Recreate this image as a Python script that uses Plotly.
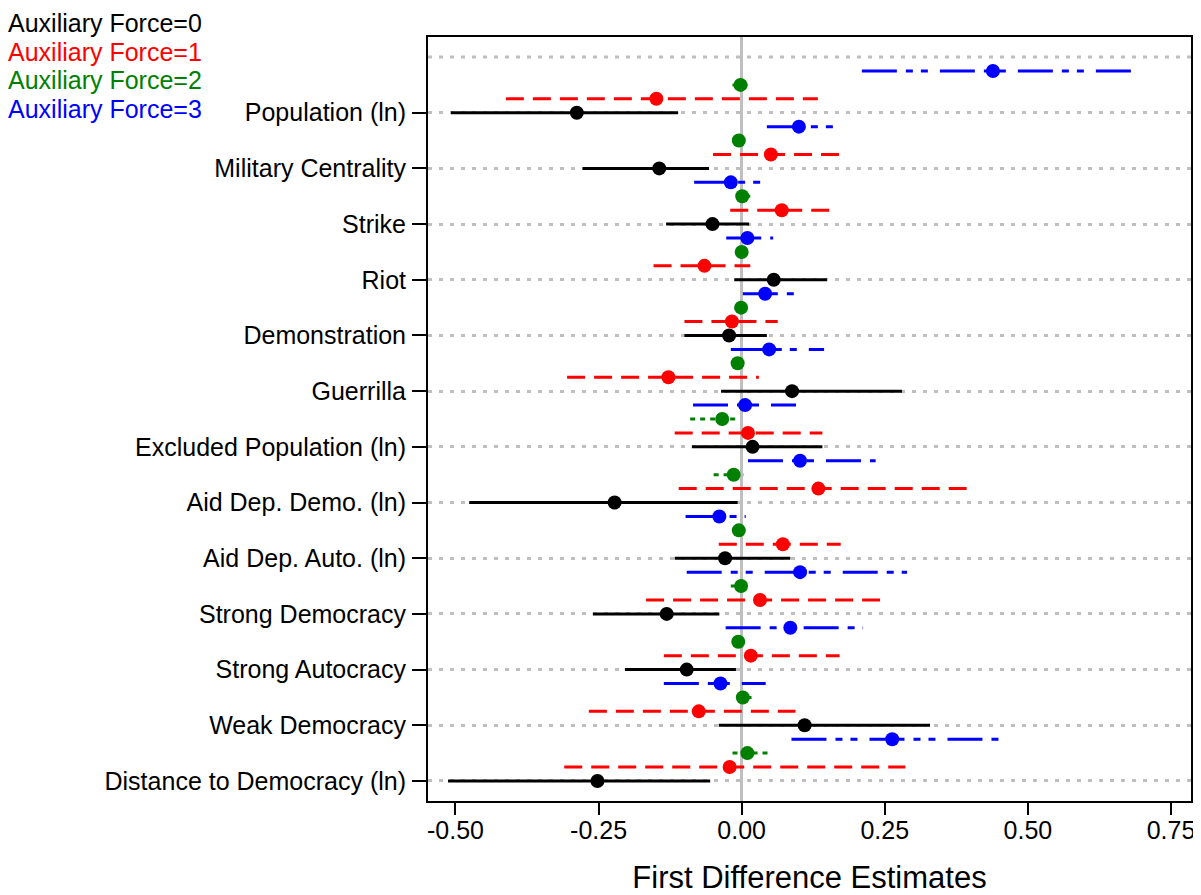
import plotly.graph_objects as go

# ---- data (rows listed top to bottom) ----
labels = ["Population (ln)", "Military Centrality", "Strike", "Riot", "Demonstration",
          "Guerrilla", "Excluded Population (ln)", "Aid Dep. Demo. (ln)", "Aid Dep. Auto. (ln)",
          "Strong Democracy", "Strong Autocracy", "Weak Democracy", "Distance to Democracy (ln)"]

af0_est = [-0.288, -0.144, -0.051, 0.056, -0.022, 0.088, 0.019, -0.222, -0.029, -0.131, -0.096, 0.110, -0.252]
af0_lo = [-0.508, -0.278, -0.132, -0.013, -0.100, -0.036, -0.087, -0.476, -0.117, -0.260, -0.204, -0.040, -0.513]
af0_hi = [-0.111, -0.057, 0.013, 0.149, 0.044, 0.280, 0.141, -0.007, 0.085, -0.039, -0.010, 0.329, -0.055]

af1_est = [-0.149, 0.051, 0.070, -0.065, -0.017, -0.128, 0.011, 0.134, 0.072, 0.032, 0.016, -0.075, -0.021]
af1_lo = [-0.412, -0.050, -0.020, -0.154, -0.100, -0.305, -0.117, -0.110, -0.040, -0.167, -0.136, -0.267, -0.310]
af1_hi = [0.133, 0.175, 0.159, 0.015, 0.063, 0.030, 0.141, 0.393, 0.173, 0.245, 0.171, 0.094, 0.286]

af2_est = [-0.002, -0.005, 0.001, 0.000, -0.001, -0.007, -0.034, -0.014, -0.005, -0.001, -0.006, 0.002, 0.010]
af2_lo = [-0.016, -0.012, -0.008, -0.008, -0.009, -0.017, -0.090, -0.049, -0.012, -0.019, -0.015, -0.009, -0.016]
af2_hi = [0.014, 0.002, 0.015, 0.008, 0.007, 0.003, -0.007, 0.004, 0.002, 0.013, 0.005, 0.019, 0.052]

af3_est = [0.439, 0.100, -0.019, 0.010, 0.041, 0.048, 0.006, 0.102, -0.039, 0.102, 0.085, -0.037, 0.263]
af3_lo = [0.210, 0.044, -0.083, -0.027, 0.002, -0.019, -0.085, 0.011, -0.098, -0.096, -0.028, -0.136, 0.087]
af3_hi = [0.680, 0.173, 0.047, 0.055, 0.093, 0.144, 0.095, 0.234, 0.007, 0.289, 0.212, 0.042, 0.454]

series_names = ["Auxiliary Force=0", "Auxiliary Force=1", "Auxiliary Force=2", "Auxiliary Force=3"]
x_ticks = [-0.50, -0.25, 0.00, 0.25, 0.50, 0.75]
x_tick_text = ["-0.50", "-0.25", "0.00", "0.25", "0.50", "0.75"]

# ---- styling ----
colors = ["#000000", "#ff0000", "#008000", "#0000ff"]
dashes = ["solid", "18px,9px", "5px,5px", "35px,9px,7px,8px,7px,12px"]
offsets = [0.0, 0.25, 0.5, 0.75]
FONT = "Arial, Liberation Sans, Helvetica, sans-serif"
GRID = "#bfbfbf"

# figure is placed by the page at an 8px body margin, so size/margins compensate
FIG_W, FIG_H = 1193, 887
L, R, T, B = 420, 10, 29, 94

n = len(labels)
base = [n - i for i in range(n)]  # top row -> n, bottom row -> 1

fig = go.Figure()
all_series = [(af0_est, af0_lo, af0_hi), (af1_est, af1_lo, af1_hi),
              (af2_est, af2_lo, af2_hi), (af3_est, af3_lo, af3_hi)]

for k, (est, lo, hi) in enumerate(all_series):
    ys = [b + offsets[k] for b in base]
    lx, ly = [], []
    for a, b, y in zip(lo, hi, ys):
        lx += [a, b, None]
        ly += [y, y, None]
    fig.add_trace(go.Scatter(x=lx, y=ly, mode="lines",
                             line=dict(color=colors[k], width=3, dash=dashes[k]),
                             showlegend=False, hoverinfo="skip"))
    fig.add_trace(go.Scatter(x=est, y=ys, mode="markers", name=series_names[k],
                             marker=dict(color=colors[k], size=14, line=dict(width=0)),
                             showlegend=False))

# extra top gridline (no tick)
fig.add_shape(type="line", xref="paper", yref="y", x0=0, x1=1, y0=n + 1, y1=n + 1,
              line=dict(color=GRID, width=3, dash="4px,7px"), layer="below")

# legend as coloured text
plot_w = FIG_W - L - R
plot_h = FIG_H - T - B
leg_top_px = [0, 28.6, 57.2, 85.8]   # figure pixel tops of each line box
for k, name in enumerate(series_names):
    fig.add_annotation(text=name, xref="paper", yref="paper",
                       x=(-1 - L) / plot_w,
                       y=(T + plot_h - leg_top_px[k]) / plot_h,
                       xanchor="left", yanchor="top", showarrow=False,
                       borderpad=0,
                       font=dict(family=FONT, size=25, color=colors[k]))

fig.update_layout(
    width=FIG_W, height=FIG_H,
    margin=dict(l=L, r=R, t=T, b=B, autoexpand=False),
    paper_bgcolor="white", plot_bgcolor="white",
    font=dict(family=FONT, size=25, color="black"),
    showlegend=False,
)

fig.update_xaxes(
    range=[-0.548, 0.785], tickvals=x_ticks, ticktext=x_tick_text,
    ticks="outside", ticklen=12, tickwidth=2, tickcolor="black",
    showline=True, linecolor="black", linewidth=2, mirror=True,
    showgrid=False, zeroline=True, zerolinecolor=GRID, zerolinewidth=2.6,
    tickfont=dict(family=FONT, size=25), ticklabelstandoff=-6,
    title=dict(text="First Difference Estimates", font=dict(family=FONT, size=31), standoff=24),
)
fig.update_yaxes(
    range=[0.64, n + 1.36], tickvals=base, ticktext=labels,
    ticks="outside", ticklen=14, tickwidth=2, tickcolor="black",
    showline=True, linecolor="black", linewidth=2, mirror=True,
    showgrid=True, gridcolor=GRID, gridwidth=3, griddash="4px,7px",
    zeroline=False, tickfont=dict(family=FONT, size=25), ticklabelstandoff=1,
)

fig.write_html("out.html")
